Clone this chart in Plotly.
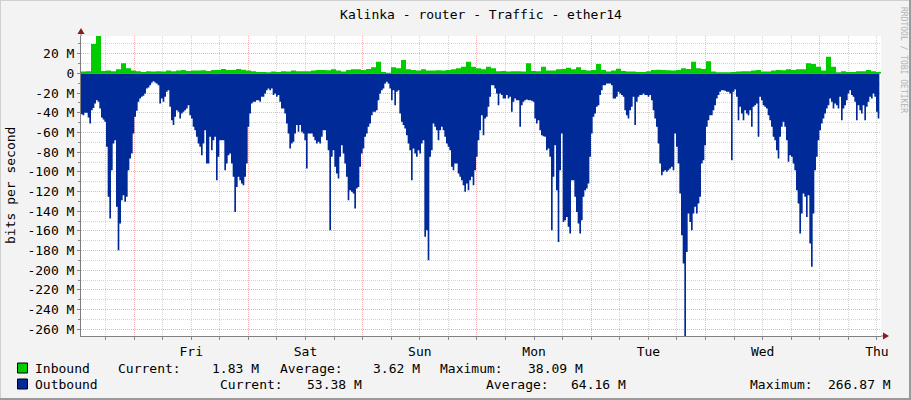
import plotly.graph_objects as go

# sample steps in hours (graph window is 7 days = 168 h)
OUT_STEP = 0.35
IN_STEP = 1.05
MIDNIGHT0 = 23.15  # first midnight (Fri) after graph start

days = ["Fri", "Sat", "Sun", "Mon", "Tue", "Wed", "Thu"]

# Mbit/s
inbound = [
    1.9, 2.2, 30.0, 38.09, 2.5, 2.9, 2.2, 4.2, 10.3, 5.3,
    2.9, 2.2, 1.5, 2.2, 1.9, 2.2, 1.9, 2.9, 2.2, 2.9,
    3.6, 2.5, 2.9, 2.9, 3.2, 2.5, 3.6, 3.6, 4.6, 3.6,
    3.6, 4.6, 3.9, 2.9, 2.2, 1.5, 1.5, 1.2, 1.9, 1.5,
    2.2,
    1.9, 2.9, 2.2, 2.2, 2.2, 2.9, 3.6, 3.6, 3.2, 4.2,
    2.9, 1.9, 3.6, 4.2, 4.2, 3.6, 4.6, 6.3, 12.0, 1.5,
    0.8, 6.3, 5.3, 13.7, 4.2, 3.6, 2.9, 4.2, 2.9, 2.9,
    3.2, 2.9, 3.6, 4.2, 5.3, 6.9, 12.0, 6.9, 5.3, 4.2,
    6.9, 5.3, 2.2, 2.5, 1.9, 2.2, 2.2, 1.9, 10.3, 2.5,
    2.2, 6.9, 2.9, 2.9, 4.2, 4.6, 5.9, 4.2, 6.3, 3.6,
    2.9, 3.6, 9.6, 3.6, 1.9, 2.9, 4.9, 2.5, 1.9, 1.9,
    1.5, 1.5, 2.2, 3.6, 3.9, 3.6, 3.2, 2.9, 3.6, 5.3,
    4.6, 12.0, 5.3, 4.6, 12.5, 1.9, 1.2, 1.2, 1.2, 1.5,
    1.9, 2.2, 2.2, 2.9, 3.6, 1.9, 1.9, 2.9, 3.6, 3.2,
    4.2, 3.6, 4.2, 4.2, 10.3, 9.6, 6.9, 2.9, 17.1, 6.9,
    1.2, 2.2, 1.5, 1.5, 2.2, 2.2, 3.6, 2.2, 1.5, 1.83,
]

outbound = [
    41.4, 42.4, 40.0, 40.0, 44.8, 50.9, 37.3, 35.0, 30.5, 27.1,
    28.8, 35.6, 44.8, 46.8, 49.2, 74.6, 125.4, 147.5, 98.3, 71.2,
    67.8, 135.6, 179.7, 152.6, 128.8, 123.7, 130.5, 125.4, 98.3, 86.4,
    81.4, 61.0, 44.1, 38.0, 28.8, 25.4, 23.7, 22.7, 20.3, 15.3,
    14.2, 11.9, 9.5, 7.8, 9.2, 10.2, 11.9, 30.5,
    25.4, 28.8, 23.7, 18.6, 17.0, 33.9, 47.5, 52.5, 44.1, 37.3,
    39.0, 45.8, 40.7, 39.0, 37.3, 35.6, 32.2, 42.4, 45.8, 54.2,
    57.6, 64.4, 71.2, 74.6, 83.1, 71.2, 57.6, 91.5, 91.5, 64.4,
    78.0, 67.8, 64.4, 108.5, 84.7, 67.8, 67.8, 67.8, 98.3, 91.5,
    83.1, 81.4, 91.5, 105.1, 140.7, 115.3, 105.1, 108.5, 111.9, 113.6,
    105.1, 91.5, 54.2, 40.7, 30.5, 28.8, 28.8, 27.1, 27.1, 28.8,
    23.7, 23.7, 20.3, 17.0, 15.3, 17.0, 15.3, 22.0, 20.3, 23.7,
    22.0, 28.8, 35.6,
    # Sat
    35.6, 40.7, 50.9, 61.0, 76.3, 71.2, 69.5, 61.0, 52.5, 59.3,
    52.5, 59.3, 61.0, 67.8, 96.6, 61.0, 61.0, 61.0, 64.4, 67.8,
    71.2, 69.5, 71.2, 64.4, 57.6, 57.6, 67.8, 78.0, 159.3, 84.7,
    78.0, 94.9, 101.7, 106.8, 84.7, 72.9, 81.4, 91.5, 105.1, 128.8,
    118.7, 120.3, 122.0, 137.3, 117.0, 115.3, 94.9, 81.4, 76.3, 64.4,
    61.0, 54.2, 50.9, 42.4, 39.0, 39.0, 37.3, 27.1, 20.3, 17.0,
    15.3, 10.2, 8.5, 10.2, 15.3, 27.1, 17.0, 32.2, 18.6, 17.0,
    40.7, 49.2, 52.5, 55.9, 62.7, 71.2, 78.0, 108.5, 76.3, 81.4,
    84.7, 78.0, 81.4, 71.2, 67.8, 166.1, 159.3, 189.8, 84.7, 78.0,
    50.9, 54.2, 57.6, 67.8, 57.6, 54.2, 57.6, 64.4, 71.2, 74.6,
    78.0, 94.9, 98.3, 91.5, 91.5, 101.7, 105.1, 108.5, 113.6, 120.3,
    111.9, 118.7, 108.5, 105.1, 113.6, 98.3, 84.7, 67.8, 57.6, 42.4,
    # Mon
    62.7, 45.8, 44.1, 33.9, 23.7, 11.9, 11.9, 15.3, 20.3, 32.2,
    20.3, 22.0, 25.4, 25.4, 22.0, 25.4, 23.7, 39.0, 28.8, 25.4,
    27.1, 27.1, 54.2, 32.2, 28.8, 27.1, 26.4, 27.1, 27.1, 27.8,
    28.8, 45.8, 50.9, 47.5, 57.6, 62.7, 63.7, 64.4, 78.0, 76.3,
    84.7, 159.3, 105.1, 72.9, 118.7, 171.2, 98.3, 61.0, 150.9, 149.2,
    145.8, 155.9, 162.7, 108.5, 108.5, 125.4, 140.7, 152.6, 162.7, 149.2,
    125.4, 118.7, 117.0, 111.9, 84.7, 61.0, 44.1, 40.7, 33.9, 32.2,
    22.0, 17.0, 11.9, 11.9, 10.2, 10.2, 10.2, 11.9, 25.4, 25.4,
    23.7, 18.6, 20.3, 22.0, 23.7, 37.3, 42.4, 45.8, 37.3, 33.9,
    23.7, 52.5, 28.8, 23.7, 22.0, 22.0, 20.3, 22.0, 22.0, 23.7,
    22.0, 27.1, 37.3, 45.8, 54.2, 71.2, 91.5, 103.4, 100.0, 98.3,
    100.0, 98.3, 96.6, 94.9, 98.3, 61.0, 74.6, 91.5, 122.0, 164.4,
    # Tue
    193.2, 266.87, 181.4, 142.4, 150.9, 159.3, 142.4, 135.6, 142.4, 132.2,
    125.4, 91.5, 88.1, 72.9, 54.2, 47.5, 42.4, 42.4, 37.3, 32.2,
    25.4, 22.0, 18.6, 17.0, 17.0, 17.6, 18.6, 18.6, 20.3, 88.1,
    18.6, 16.3, 23.7, 47.5, 33.9, 40.7, 47.5, 37.3, 40.7, 42.4,
    37.3, 54.2, 33.9, 32.2, 30.5, 64.4, 23.7, 27.1, 32.2, 33.9,
    35.6, 42.4, 47.5, 54.2, 64.4, 67.8, 78.0, 86.4, 64.4, 54.2,
    49.2, 54.2, 67.8, 89.8, 83.1, 84.7, 91.5, 98.3, 118.7, 132.2,
    162.7, 142.4, 122.0, 125.4, 145.8, 123.7, 172.9, 196.6, 142.4, 98.3,
    84.7, 67.8, 57.6, 50.9, 45.8, 40.7, 35.6, 32.2, 25.4, 28.8,
    35.6, 30.5, 32.2, 35.6, 23.7, 47.5, 35.6, 32.2, 27.1, 20.3,
    17.0, 22.0, 23.7, 28.8, 47.5, 32.2, 37.3, 40.7, 32.2, 47.5,
    33.9, 28.8, 23.7, 25.4, 20.3, 23.7, 39.0, 45.8, 53.4,
]

legend_rows = [
    ("Inbound", "#00CC00", ["1.83 M", "3.62 M", "38.09 M"]),
    ("Outbound", "#002A97", ["53.38 M", "64.16 M", "266.87 M"]),
]

W, H = 911, 400
L, R, T, B = 81, 881, 36, 336
MONO = "DejaVu Sans Mono"


def px(x):
    return (x - L) / (R - L)


def py(y):
    return (B - y) / (B - T)


t_in = [i * IN_STEP for i in range(len(inbound))]
t_out = [i * OUT_STEP for i in range(len(outbound))]

fig = go.Figure()
fig.add_trace(go.Scatter(
    x=t_out, y=[-v for v in outbound], mode="lines", line_shape="hv",
    line=dict(width=0, color="#002A97"), fill="tozeroy", fillcolor="#002A97",
    hoverinfo="skip", showlegend=False,
))
fig.add_trace(go.Scatter(
    x=t_in, y=inbound, mode="lines", line_shape="hv", xaxis="x2",
    line=dict(width=0, color="#00CC00"), fill="tozeroy", fillcolor="#00CC00",
    hoverinfo="skip", showlegend=False,
))

midnights = [MIDNIGHT0 + 24 * k for k in range(7)]
noons = [m - 12 for m in midnights]
six_hours = [MIDNIGHT0 - 18 + 12 * k for k in range(14)]

y_major = list(range(-260, 21, 20))
y_minor = list(range(-250, 31, 20))

gray = "#d4d4d4"
red = "#f2b2b2"
axis_font = dict(family=MONO, size=13, color="black")

fig.update_layout(
    width=W, height=H,
    margin=dict(l=L, r=W - R, t=T, b=H - B),
    paper_bgcolor="#f3f3f3", plot_bgcolor="white",
    title=dict(text="Kalinka - router - Traffic - ether14", x=0.5, xref="paper",
               y=1 - 14 / H, yanchor="middle",
               font=dict(family=MONO, size=13, color="black")),
    xaxis=dict(range=[0, 168], tickmode="array", tickvals=midnights, ticktext=days,
               showgrid=True, gridcolor=gray, griddash="1px,1px", gridwidth=1,
               ticks="outside", ticklen=3, tickcolor="#888", showline=True,
               linecolor="#808080", zeroline=False, tickfont=axis_font,
               minor=dict(tickmode="array", tickvals=six_hours, showgrid=True,
                          gridcolor=gray, griddash="1px,1px", ticks="outside",
                          ticklen=3, tickcolor="#888")),
    xaxis2=dict(range=[0, 168], overlaying="x", side="bottom", tickmode="array",
                tickvals=noons, showticklabels=False, showgrid=True, gridcolor=red,
                griddash="1px,1px", ticks="outside", ticklen=3, tickcolor="#888",
                zeroline=False),
    yaxis=dict(range=[-266.87, 38.09], tickmode="array", tickvals=y_major,
               ticktext=[f"{v} M" if v else "0" for v in y_major],
               showgrid=True, gridcolor=red, griddash="1px,1px", zeroline=False,
               ticks="outside", ticklen=3, tickcolor="#888", showline=True,
               linecolor="#808080", tickfont=axis_font,
               minor=dict(tickmode="array", tickvals=y_minor, showgrid=True,
                          gridcolor=gray, griddash="1px,1px", ticks="outside",
                          ticklen=2, tickcolor="#888")),
)

shapes = [
    # frame shading
    dict(type="line", x0=px(0), x1=px(W), y0=py(0.5), y1=py(0.5), line=dict(color="#cfcfcf", width=1)),
    dict(type="line", x0=px(0.5), x1=px(0.5), y0=py(0), y1=py(H), line=dict(color="#cfcfcf", width=1)),
    dict(type="line", x0=px(0), x1=px(W), y0=py(H - 1), y1=py(H - 1), line=dict(color="#9a9a9a", width=2)),
    dict(type="line", x0=px(W - 1), x1=px(W - 1), y0=py(0), y1=py(H), line=dict(color="#9a9a9a", width=2)),
    # axis extensions and arrows
    dict(type="line", x0=px(L), x1=px(L), y0=py(T), y1=py(31), line=dict(color="#808080", width=1)),
    dict(type="line", x0=px(R), x1=px(884), y0=py(B), y1=py(B), line=dict(color="#808080", width=1)),
    dict(type="path", path=f"M {L - 3.5},{34} L {L + 3.5},{34} L {L},{28} Z",
         xref="paper", yref="paper", fillcolor="#8b1a1a", line=dict(width=0)),
    dict(type="path", path=f"M {883},{B - 3.5} L {883},{B + 3.5} L {889},{B} Z",
         fillcolor="#8b1a1a", line=dict(width=0)),
]
# convert path shapes from pixel to paper coords
for s in shapes:
    if s["type"] == "path":
        pts = s["path"].replace("M", "").replace("Z", "").split("L")
        out = []
        for p in pts:
            xs, ys = p.strip().split(",")
            out.append(f"{px(float(xs)):.5f},{py(float(ys)):.5f}")
        s["path"] = "M " + " L ".join(out) + " Z"
    s.setdefault("xref", "paper")
    s.setdefault("yref", "paper")
    s["layer"] = "above"

ann = []
row_y = [368, 384]
for (name, color, vals), yy in zip(legend_rows, row_y):
    shapes.append(dict(type="rect", xref="paper", yref="paper", x0=px(17.5), x1=px(27.5),
                       y0=py(yy - 5), y1=py(yy + 5), fillcolor=color,
                       line=dict(color="black", width=1), layer="above"))
    ann.append(dict(text=name, x=px(33), y=py(yy), xanchor="left"))

# label / value positions (px) for each legend row
label_x = [[116, 278, 438], [218, 484, 748]]
value_x = [[261, 422, 585], [364, 628, 893]]
for r, (row, yy) in enumerate(zip(legend_rows, row_y)):
    for lab, lx, val, vx in zip(["Current:", "Average:", "Maximum:"], label_x[r], row[2], value_x[r]):
        ann.append(dict(text=lab, x=px(lx), y=py(yy), xanchor="left"))
        ann.append(dict(text=val, x=px(vx), y=py(yy), xanchor="right"))

for a in ann:
    a.update(xref="paper", yref="paper", yanchor="middle", showarrow=False,
             font=dict(family=MONO, size=13, color="black"))

ann.append(dict(text="bits per second", textangle=-90, x=px(10), y=py(186),
                xref="paper", yref="paper", xanchor="center", yanchor="middle",
                showarrow=False, font=dict(family=MONO, size=13, color="black")))
ann.append(dict(text="RRDTOOL / TOBI OETIKER", textangle=90, x=px(903), y=py(60),
                xref="paper", yref="paper", xanchor="center", yanchor="middle",
                showarrow=False, font=dict(family=MONO, size=8, color="#b4b4b4")))

fig.update_layout(shapes=shapes, annotations=ann)
# page has a default body margin; drop it so the figure sits at (0, 0)
fig.write_html("out.html", config={"displayModeBar": False},
               post_script="document.body.style.margin = '0';")
